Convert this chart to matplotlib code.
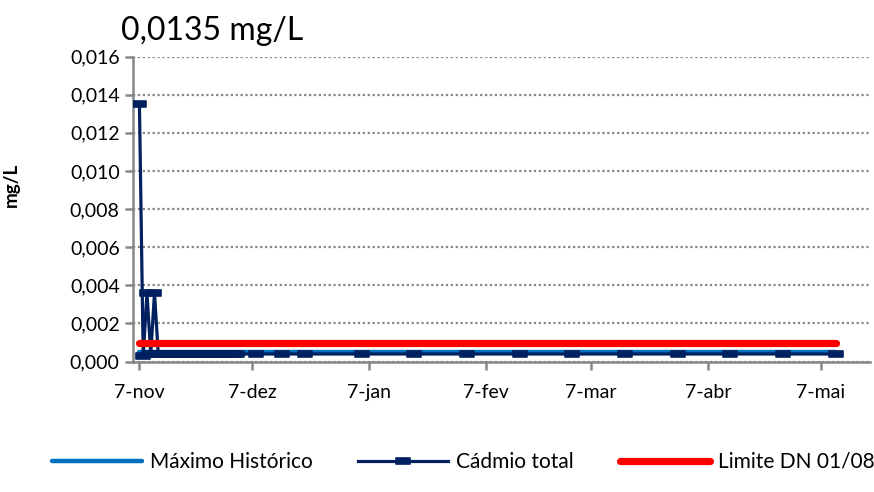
import numpy as np
import pandas as pd
import matplotlib
matplotlib.use('Agg')
import matplotlib.pyplot as plt
import matplotlib.dates as mdates
from matplotlib.path import Path

plt.rcParams['font.family'] = ['Lato', 'DejaVu Sans']

# Cádmio total (mg/L)
cd_dates = ['2012-11-07', '2012-11-08', '2012-11-09', '2012-11-10', '2012-11-11',
            '2012-11-12', '2012-11-13', '2012-11-14', '2012-11-15', '2012-11-16',
            '2012-11-17', '2012-11-18', '2012-11-19', '2012-11-20', '2012-11-21',
            '2012-11-22', '2012-11-23', '2012-11-24', '2012-11-25', '2012-11-26',
            '2012-11-27', '2012-11-28', '2012-11-29', '2012-11-30', '2012-12-01',
            '2012-12-02', '2012-12-03', '2012-12-08', '2012-12-15', '2012-12-21',
            '2013-01-05', '2013-01-19', '2013-02-02', '2013-02-16', '2013-03-02',
            '2013-03-16', '2013-03-30', '2013-04-13', '2013-04-27', '2013-05-11']
cd_values = [0.0135, 0.0003, 0.0036, 0.0004, 0.0036,
             0.0004, 0.0004, 0.0004, 0.0004, 0.0004,
             0.0004, 0.0004, 0.0004, 0.0004, 0.0004,
             0.0004, 0.0004, 0.0004, 0.0004, 0.0004,
             0.0004, 0.0004, 0.0004, 0.0004, 0.0004,
             0.0004, 0.0004, 0.0004, 0.0004, 0.0004,
             0.0004, 0.0004, 0.0004, 0.0004, 0.0004,
             0.0004, 0.0004, 0.0004, 0.0004, 0.0004]

# Máximo Histórico and Limite DN 01/08
ref_dates = ['2012-11-07', '2013-05-11']
max_hist = [0.0005, 0.0005]
limite = [0.001, 0.001]

tick_dates = ['2012-11-07', '2012-12-07', '2013-01-07', '2013-02-07',
              '2013-03-07', '2013-04-07', '2013-05-07']
tick_labels = ['7-nov', '7-dez', '7-jan', '7-fev', '7-mar', '7-abr', '7-mai']
y_ticks = [0, 0.002, 0.004, 0.006, 0.008, 0.010, 0.012, 0.014, 0.016]

cd_dates = pd.to_datetime(cd_dates)
ref_dates = pd.to_datetime(ref_dates)
tick_dates = pd.to_datetime(tick_dates)

dash = Path([(-1, -0.42), (1, -0.42), (1, 0.42), (-1, 0.42), (-1, -0.42)],
            [Path.MOVETO, Path.LINETO, Path.LINETO, Path.LINETO, Path.CLOSEPOLY])

fig = plt.figure(figsize=(8.74, 4.92), dpi=100)
ax = fig.add_axes([0.152, 0.265, 0.843, 0.62])

gray = '#868686'
ax.plot(ref_dates, max_hist, color='#0070C0', lw=3.2, solid_capstyle='round',
        zorder=3, label='Máximo Histórico')
ax.plot(cd_dates, cd_values, color='#002060', lw=2.3, marker=dash, ms=9.5,
        mec='#002060', mew=1.2, mfc='#002060', solid_joinstyle='round', zorder=4,
        label='Cádmio total')
ax.plot(ref_dates, limite, color='#FF0000', lw=5.2, solid_capstyle='round',
        zorder=5, label='Limite DN 01/08')

ax.set_xlim(pd.Timestamp('2012-11-05 06:00'), pd.Timestamp('2013-05-20'))
ax.set_ylim(0, 0.016)
ax.set_xticks(tick_dates)
ax.set_xticklabels(tick_labels)
ax.set_yticks(y_ticks)
ax.set_yticklabels([('%.3f' % v).replace('.', ',') for v in y_ticks])

ax.grid(axis='y', color=gray, ls=(0, (1, 1.2)), lw=1.6)
ax.set_axisbelow(True)
for s in ['top', 'right']:
    ax.spines[s].set_visible(False)
for s in ['left', 'bottom']:
    ax.spines[s].set_color(gray)
    ax.spines[s].set_linewidth(1.8)
ax.tick_params(axis='both', colors=gray, width=1.8, length=6, labelcolor='black',
               labelsize=14)
ax.tick_params(axis='x', pad=10)

ax.set_ylabel('mg/L', fontsize=13.5, fontweight='bold')
ax.yaxis.set_label_coords(-0.153, 0.58)

fig.text(0.139, 0.918, '0,0135 mg/L', fontsize=23)

fig.legend(loc='center', bbox_to_anchor=(0.53, 0.061), ncol=3, frameon=False,
           fontsize=15, handlelength=4.3, handletextpad=0.4, columnspacing=2.2)

fig.savefig('out.png', dpi=100)
